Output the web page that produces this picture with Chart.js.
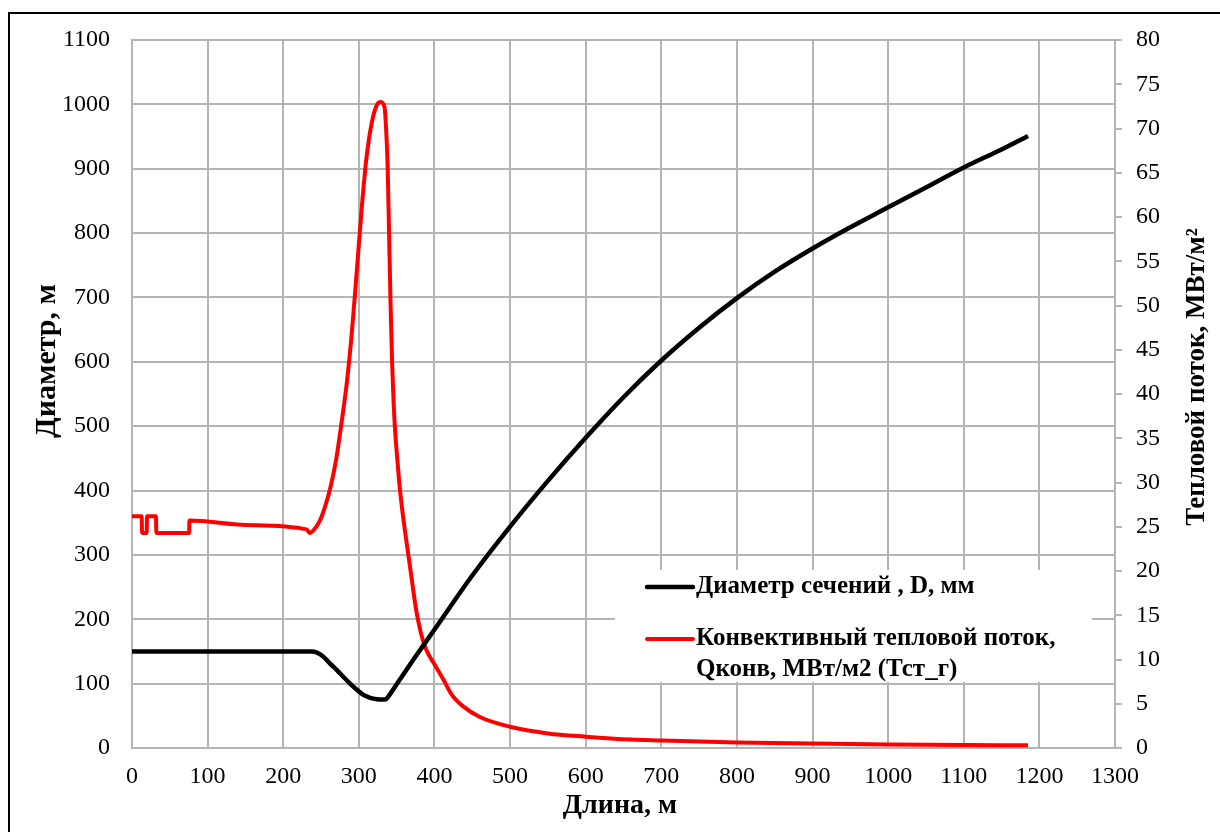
<!DOCTYPE html>
<html>
<head>
<meta charset="utf-8">
<script src="https://cdn.jsdelivr.net/npm/chart.js@4.4.0/dist/chart.umd.min.js"></script>
<style>
  body { margin: 0; background: #fff; }
  #frame { position: absolute; left: 8px; top: 12px; width: 1300px; height: 900px; border: 2px solid #000; }
  #heatChart { position: absolute; left: 0; top: 0; }
</style>
</head>
<body>
<div id="frame"></div>
<canvas id="heatChart" width="1220" height="832"></canvas>
<script>
// диаметр сечения по длине, мм
const lengthD = [0, 100, 200, 238, 245, 253, 262, 271, 280, 288, 297, 306, 315, 324, 330, 335, 337,
  350, 372, 400, 450, 500, 550, 600, 650, 700, 750, 800, 850, 900, 950, 1000, 1050, 1100, 1150, 1185];
const diameter = [150, 150, 150, 150, 148, 142, 131, 121, 110, 100.5, 91, 82.5, 78, 75.8, 75.3, 75.3, 77,
  99, 137, 184, 268, 344, 415, 482, 545, 602, 653, 699, 740, 776, 809, 840, 871, 902, 930, 951];

// конвективный тепловой поток, МВт/м2
const lengthQ = [0, 12.8, 13.3, 19.4, 19.9, 31.7, 32.2, 75.5, 76, 150, 231, 235, 240, 248, 255, 262, 270,
  277, 284, 291, 297, 304, 310, 317, 324, 329, 334, 336, 338, 340, 342, 344, 346, 348, 351, 354, 358, 363,
  368, 372, 376, 381, 386, 392, 399, 412, 423, 438, 460, 500, 550, 600, 660, 700, 800, 900, 1000, 1100, 1185];
const qConv = [26.2, 26.2, 24.3, 24.3, 26.2, 26.2, 24.3, 24.3, 25.7, 25.2, 24.7, 24.3, 24.6, 25.6, 27.2, 29.3, 32.6,
  36.7, 41.2, 47.2, 53.6, 61.2, 66.6, 70.6, 72.7, 73.0, 72.4, 70, 66, 58, 50, 43.5, 39, 35.8, 32.5, 29.5, 26.5, 23.3,
  20.3, 17.8, 15.5, 13.4, 11.8, 10.6, 9.6, 7.7, 6.0, 4.7, 3.5, 2.4, 1.65, 1.28, 0.95, 0.85, 0.62, 0.5, 0.4, 0.33, 0.3];

const seriesLabels = [
  ['Диаметр сечений , D, мм'],
  ['Конвективный тепловой поток,', 'Qконв, МВт/м2 (Тст_г)']
];
const xTitle = 'Длина, м';
const yTitle = 'Диаметр, м';
const y1Title = 'Тепловой поток, МВт/м²';

const serif = "'Liberation Serif', 'Times New Roman', serif";
const gridGray = '#b4b4b4';

const toPoints = (xs, ys) => xs.map((x, i) => ({ x: x, y: ys[i] }));

function drawTitle(c, text, size, x, y, angle) {
  c.save();
  c.fillStyle = '#000';
  c.font = 'bold ' + size + 'px ' + serif;
  c.textAlign = 'center';
  c.textBaseline = 'middle';
  c.translate(x, y);
  c.rotate(angle);
  c.fillText(text, 0, 0);
  c.restore();
}

// подписи осей и легенда внутри области графика
const titlesAndLegend = {
  id: 'titlesAndLegend',
  beforeDatasetsDraw(chart) {
    const c = chart.ctx;
    const a = chart.chartArea;
    const bx = a.left + 483, by = a.top + 530;
    c.save();
    c.fillStyle = '#fff';
    c.fillRect(bx, by, 477, 112);
    c.font = 'bold 25px ' + serif;
    c.textBaseline = 'middle';
    c.fillStyle = '#000';
    const rows = [by + 17, by + 69];
    chart.data.datasets.forEach((ds, i) => {
      c.strokeStyle = ds.borderColor;
      c.lineWidth = ds.borderWidth;
      c.lineCap = 'round';
      c.beginPath();
      c.moveTo(bx + 32, rows[i]);
      c.lineTo(bx + 78, rows[i]);
      c.stroke();
      seriesLabels[i].forEach((line, k) => c.fillText(line, bx + 81, rows[i] + k * 31));
    });
    c.restore();
  },
  afterDraw(chart) {
    const c = chart.ctx;
    drawTitle(c, xTitle, 28, 620, 806, 0);
    drawTitle(c, yTitle, 30, 47, 361, -Math.PI / 2);
    drawTitle(c, y1Title, 27, 1197, 377, -Math.PI / 2);
  }
};

const tickFont = { family: serif, size: 24 };
const plain = (v) => String(v);

new Chart(document.getElementById('heatChart'), {
  type: 'line',
  data: {
    datasets: [
      {
        label: seriesLabels[0].join(' '),
        data: toPoints(lengthD, diameter),
        yAxisID: 'y',
        borderColor: '#000000',
        borderWidth: 4.5,
        pointRadius: 0,
        cubicInterpolationMode: 'monotone',
      },
      {
        label: seriesLabels[1].join(' '),
        data: toPoints(lengthQ, qConv),
        yAxisID: 'y1',
        borderColor: '#ff0000',
        borderWidth: 4,
        pointRadius: 0,
        cubicInterpolationMode: 'monotone',
      },
    ],
  },
  options: {
    responsive: false,
    animation: false,
    layout: { padding: { top: 40 } },
    scales: {
      x: {
        type: 'linear',
        min: 0,
        max: 1300,
        ticks: { stepSize: 100, color: '#000', font: tickFont, padding: 14, maxRotation: 0, callback: plain },
        grid: { color: gridGray, lineWidth: 2, drawTicks: false },
        border: { color: gridGray, width: 2 },
        afterFit: (s) => { s.height = 84; },
      },
      y: {
        position: 'left',
        min: 0,
        max: 1100,
        ticks: { stepSize: 100, color: '#000', font: tickFont, padding: 22, callback: plain },
        grid: { color: gridGray, lineWidth: 2, drawTicks: false },
        border: { color: gridGray, width: 2 },
        afterFit: (s) => { s.width = 132; },
      },
      y1: {
        position: 'right',
        min: 0,
        max: 80,
        ticks: { stepSize: 5, color: '#000', font: tickFont, padding: 14, callback: plain },
        grid: { drawOnChartArea: false, color: gridGray, lineWidth: 2, tickLength: 7 },
        border: { color: gridGray, width: 2 },
        afterFit: (s) => { s.width = 105; },
      },
    },
    plugins: {
      legend: { display: false },
      tooltip: { enabled: false },
    },
  },
  plugins: [titlesAndLegend],
});
</script>
</body>
</html>
